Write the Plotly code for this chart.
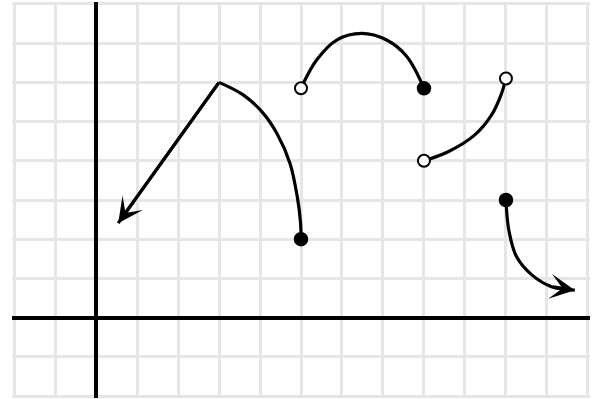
import plotly.graph_objects as go

# piecewise pieces (x units, y units)
ray_x = [3.0, 0.54]
ray_y = [6.0, 2.41]

arc1_x = [3.0, 3.59, 4.08, 4.41, 4.73, 4.91, 4.99, 5.0]
arc1_y = [6.0, 5.68, 5.21, 4.70, 3.94, 3.08, 2.41, 2.0]

arc2_x = [5.0, 5.38, 5.87, 6.48, 7.09, 7.58, 8.0]
arc2_y = [5.85, 6.57, 7.08, 7.25, 7.08, 6.66, 5.85]

arc3_x = [8.0, 8.59, 9.24, 9.65, 9.88, 10.0]
arc3_y = [4.0, 4.23, 4.66, 5.17, 5.68, 6.1]

tail_x = [10.0, 10.07, 10.26, 10.63, 11.11, 11.68]
tail_y = [3.0, 2.23, 1.55, 1.09, 0.79, 0.70]

closed_x = [5.0, 8.0, 10.0]
closed_y = [2.0, 5.85, 3.0]
open_x = [5.0, 8.0, 10.0]
open_y = [5.85, 4.0, 6.1]

fig = go.Figure()
fig.add_trace(go.Scatter(x=ray_x, y=ray_y, mode='lines',
                         line=dict(color='black', width=3.2)))
for xs, ys in [(arc1_x, arc1_y), (arc2_x, arc2_y), (arc3_x, arc3_y), (tail_x, tail_y)]:
    fig.add_trace(go.Scatter(x=xs, y=ys, mode='lines',
                             line=dict(color='black', width=3.2, shape='spline')))

fig.add_trace(go.Scatter(x=closed_x, y=closed_y, mode='markers',
                         marker=dict(size=13, color='black',
                                     line=dict(color='black', width=1.5))))
fig.add_trace(go.Scatter(x=open_x, y=open_y, mode='markers',
                         marker=dict(size=12, color='white',
                                     line=dict(color='black', width=2))))

# arrow heads at the ends of the ray and the tail
for xs, ys in [(ray_x, ray_y), (tail_x, tail_y)]:
    fig.add_annotation(x=xs[-1], y=ys[-1], ax=xs[-2], ay=ys[-2],
                       xref='x', yref='y', axref='x', ayref='y',
                       text='', showarrow=True, arrowhead=3,
                       arrowsize=1.3, arrowwidth=3.2, arrowcolor='black')

axis = dict(showticklabels=False, ticks='', dtick=1,
            showgrid=True, gridcolor='#e6e6e6', gridwidth=3,
            zeroline=True, zerolinecolor='black', zerolinewidth=4,
            showline=False, fixedrange=True)

# small padding so the outer grid lines are drawn
fig.update_xaxes(range=[-2.05, 12.05], **axis)
fig.update_yaxes(range=[-2.05, 8.05], **axis)

fig.update_layout(
    width=592, height=399,
    margin=dict(l=12, r=2, t=2, b=1),
    showlegend=False,
    paper_bgcolor='white',
    plot_bgcolor='white'
)

fig.write_html("out.html", config={'displayModeBar': False},
               post_script="document.body.style.margin='0';")
